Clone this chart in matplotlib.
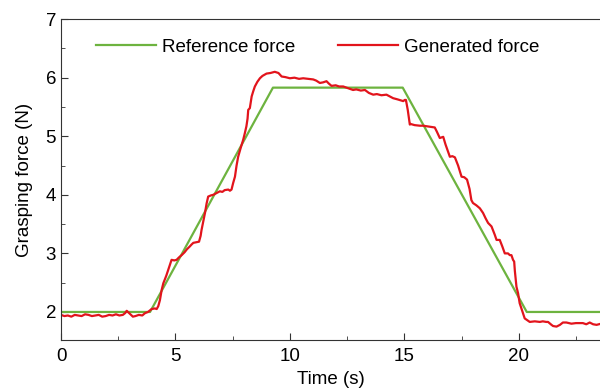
import numpy as np
import matplotlib.pyplot as plt
from matplotlib.ticker import MultipleLocator

plt.rcParams['font.family'] = ['Liberation Sans', 'DejaVu Sans']

# Reference force profile (trapezoid)
ref_time = [0, 3.89, 9.26, 14.93, 20.35, 23.6]
ref_force = [2.0, 2.0, 5.83, 5.83, 2.0, 2.0]

# Generated force
gen_time = [0.0, 0.15, 0.3, 0.45, 0.6, 0.75, 0.9, 1.05, 1.2, 1.35, 1.5, 1.65, 1.8,
            1.95, 2.1, 2.25, 2.4, 2.55, 2.7, 2.8, 2.87, 2.95, 3.05, 3.14, 3.25, 3.4,
            3.55, 3.67, 3.8, 3.96, 4.1, 4.18, 4.25, 4.32, 4.4, 4.47, 4.6, 4.72, 4.83,
            4.95, 5.05, 5.15, 5.27, 5.4, 5.5, 5.63, 5.7, 5.78, 5.9, 6.03, 6.1, 6.14,
            6.22, 6.29, 6.36, 6.43, 6.55, 6.65, 6.8, 6.94, 7.05, 7.15, 7.31, 7.38,
            7.45, 7.52, 7.6, 7.67, 7.74, 7.85, 7.96, 8.03, 8.1, 8.15, 8.18, 8.25,
            8.33, 8.4, 8.47, 8.58, 8.69, 8.8, 8.98, 9.15, 9.34, 9.5, 9.64, 9.8, 10.0,
            10.2, 10.4, 10.58, 10.8, 11.02, 11.15, 11.31, 11.45, 11.6, 11.7, 11.82,
            12.0, 12.15, 12.33, 12.55, 12.76, 12.9, 13.1, 13.28, 13.45, 13.64, 13.8,
            14.0, 14.22, 14.37, 14.51, 14.7, 14.95, 15.02, 15.07, 15.15, 15.24, 15.27,
            15.45, 15.68, 15.82, 16.0, 16.15, 16.33, 16.42, 16.55, 16.7, 16.8, 16.99,
            17.1, 17.21, 17.35, 17.5, 17.62, 17.74, 17.85, 17.93, 18.0, 18.15, 18.3,
            18.44, 18.55, 18.66, 18.81, 18.95, 19.03, 19.17, 19.28, 19.39, 19.53,
            19.61, 19.68, 19.75, 19.8, 19.83, 19.87, 19.9, 19.97, 20.04, 20.15, 20.26,
            20.37, 20.48, 20.7, 20.92, 21.05, 21.2, 21.28, 21.43, 21.5, 21.65, 21.8,
            21.93, 22.08, 22.3, 22.5, 22.8, 22.95, 23.1, 23.25, 23.4, 23.6]
gen_force = [1.95, 1.93, 1.94, 1.92, 1.95, 1.94, 1.93, 1.96, 1.95, 1.93, 1.94, 1.95, 1.92,
             1.93, 1.95, 1.94, 1.96, 1.94, 1.95, 1.98, 2.02, 1.99, 1.95, 1.92, 1.93, 1.95,
             1.94, 1.98, 2.0, 2.05, 2.06, 2.05, 2.1, 2.2, 2.38, 2.49, 2.62, 2.76, 2.89,
             2.88, 2.89, 2.93, 2.97, 3.02, 3.07, 3.12, 3.15, 3.18, 3.19, 3.2, 3.3, 3.4,
             3.55, 3.69, 3.85, 3.97, 3.99, 4.0, 4.03, 4.06, 4.05, 4.08, 4.09, 4.07,
             4.09, 4.2, 4.31, 4.5, 4.65, 4.8, 4.94, 5.05, 5.17, 5.3, 5.45, 5.48,
             5.68, 5.77, 5.85, 5.93, 5.99, 6.03, 6.07, 6.08, 6.1, 6.08, 6.02, 6.01, 5.99,
             6.0, 5.98, 5.99, 5.98, 5.97, 5.95, 5.91, 5.92, 5.94, 5.9, 5.86,
             5.87, 5.85, 5.85, 5.82, 5.79, 5.8, 5.78, 5.79, 5.74, 5.71, 5.72,
             5.7, 5.71, 5.68, 5.65, 5.63, 5.6, 5.62, 5.62, 5.45, 5.2, 5.21,
             5.19, 5.18, 5.18, 5.17, 5.16, 5.15, 5.08, 4.97, 4.99, 4.86, 4.65,
             4.66, 4.64, 4.5, 4.31, 4.3, 4.26, 4.1, 3.91, 3.86, 3.82, 3.77,
             3.69, 3.6, 3.52, 3.46, 3.32, 3.23, 3.23, 3.12, 3.0, 3.0,
             2.97, 2.97, 2.89, 2.86, 2.7, 2.55, 2.43, 2.32, 2.15, 2.02, 1.89,
             1.86, 1.83, 1.84, 1.83, 1.84, 1.83, 1.83, 1.78, 1.76, 1.75, 1.78,
             1.82, 1.82, 1.8, 1.81, 1.81, 1.79, 1.82, 1.79, 1.78, 1.8]

x_ticks = [0, 5, 10, 15, 20]
y_ticks = [2, 3, 4, 5, 6, 7]

fig = plt.figure(figsize=(6, 3.9), dpi=100)
ax = fig.add_axes([0.1017, 0.128, 0.8983, 0.823])

ax.plot(ref_time, ref_force, color='#6db33f', lw=1.6, label='Reference force')
ax.plot(gen_time, gen_force, color='#e2141c', lw=1.6, label='Generated force')

ax.set_xlim(0, 23.55)
ax.set_ylim(1.52, 7)
ax.set_xticks(x_ticks)
ax.set_yticks(y_ticks)
ax.xaxis.set_minor_locator(MultipleLocator(2.5))
ax.yaxis.set_minor_locator(MultipleLocator(0.5))
ax.tick_params(which='both', direction='in', labelsize=13.5, color='#333333')
ax.tick_params(which='major', length=5)
ax.tick_params(which='minor', length=3)
ax.tick_params(axis='x', pad=6)
ax.spines['right'].set_visible(False)
for s in ['left', 'bottom', 'top']:
    ax.spines[s].set_color('#333333')

ax.set_xlabel('Time (s)', fontsize=13.5, labelpad=4)
ax.set_ylabel('Grasping force (N)', fontsize=13.5, labelpad=9)

ax.legend(loc='center left', bbox_to_anchor=(0.064, 0.913), ncol=2, frameon=False,
          fontsize=13.5, handlelength=3.2, handletextpad=0.32, columnspacing=2.3,
          borderpad=0, borderaxespad=0)

fig.savefig('out.png')
